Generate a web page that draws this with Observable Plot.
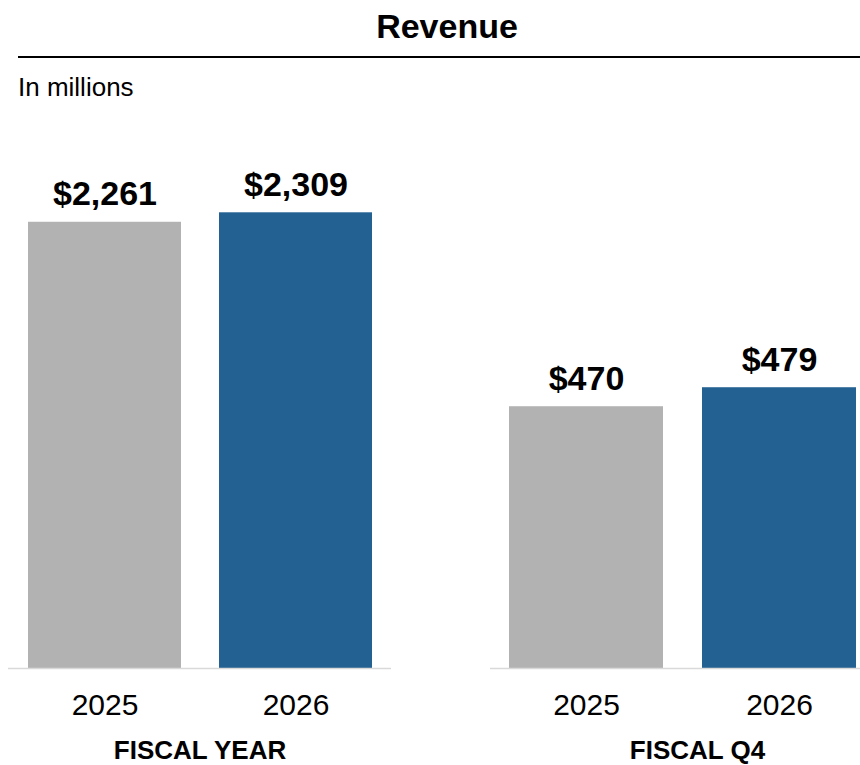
<!DOCTYPE html>
<html><head><meta charset="utf-8">
<script src="https://cdn.jsdelivr.net/npm/d3@7"></script>
<script src="https://cdn.jsdelivr.net/npm/@observablehq/plot@0.6"></script>
<style>
body{margin:0;background:#fff;font-family:"Liberation Sans",Arial,sans-serif;color:#000;}
#wrap{position:relative;width:860px;height:765px;overflow:hidden;}
#title{position:absolute;left:34px;right:0;top:9px;text-align:center;font-weight:bold;font-size:34px;line-height:34px;}
#rule{position:absolute;left:18px;right:0;top:56px;height:2px;background:#000;}
#sub{position:absolute;left:18px;top:74px;font-size:26px;line-height:26px;}
.panel{position:absolute;top:120px;}
.panel svg{display:block;overflow:visible;max-width:none !important;}
</style></head><body>
<div id="wrap">
  <div id="title">Revenue</div>
  <div id="rule"></div>
  <div id="sub">In millions</div>
  <div class="panel" id="p1" style="left:0;width:430px"></div>
  <div class="panel" id="p2" style="left:430px;width:446px"></div>
</div>
<script>
const years = ["2025", "2026"];
const fiscalYearRevenue = [2261, 2309];
const fiscalQ4Revenue = [470, 479];
const groupLabels = ["FISCAL YEAR", "FISCAL Q4"];
const barColors = ["#b2b2b2", "#236192"];

const fmt = v => "$" + d3.format(",")(v);
const FONT = "'Liberation Sans', Arial, sans-serif";

function panel({values, group, width, marginLeft, marginRight, marginTop, yDomain, labelDx}) {
  const data = years.map((year, i) => ({year, value: values[i]}));
  const y0 = yDomain[0];
  return Plot.plot({
    width, height: 645,
    marginLeft, marginRight, marginTop, marginBottom: 97,
    style: {fontFamily: FONT, background: "transparent", color: "#000", overflow: "visible", maxWidth: "none"},
    x: {domain: years, paddingInner: 0.2, paddingOuter: 0.1},
    y: {domain: yDomain, axis: null},
    color: {domain: years, range: barColors},
    marks: [
      Plot.barY(data, {x: "year", y1: y0, y2: "value", fill: "year"}),
      Plot.ruleY([y0], {stroke: "#d9d9d9", strokeWidth: 1.5}),
      Plot.axisX({tickSize: 0, tickPadding: 25, fontSize: 30, label: null, fill: "#000"}),
      Plot.text(data, {x: "year", y: "value", text: d => fmt(d.value), lineAnchor: "bottom", dy: -17,
        fontSize: 34, fontWeight: "bold", fill: "#000"}),
      Plot.text([group], {text: d => d, frameAnchor: "bottom", lineAnchor: "middle", dy: 82, dx: labelDx,
        fontSize: 26, fontWeight: "bold", fill: "#000"})
    ]
  });
}

document.getElementById("p1").append(panel({
  values: fiscalYearRevenue, group: groupLabels[0],
  width: 430, marginLeft: 8, marginRight: 39, marginTop: 54.6,
  yDomain: [0, 2500], labelDx: 0
}));
document.getElementById("p2").append(panel({
  values: fiscalQ4Revenue, group: groupLabels[1],
  width: 446, marginLeft: 60, marginRight: 0, marginTop: 32.9,
  yDomain: [346, 590], labelDx: 14
}));
</script>
</body></html>
